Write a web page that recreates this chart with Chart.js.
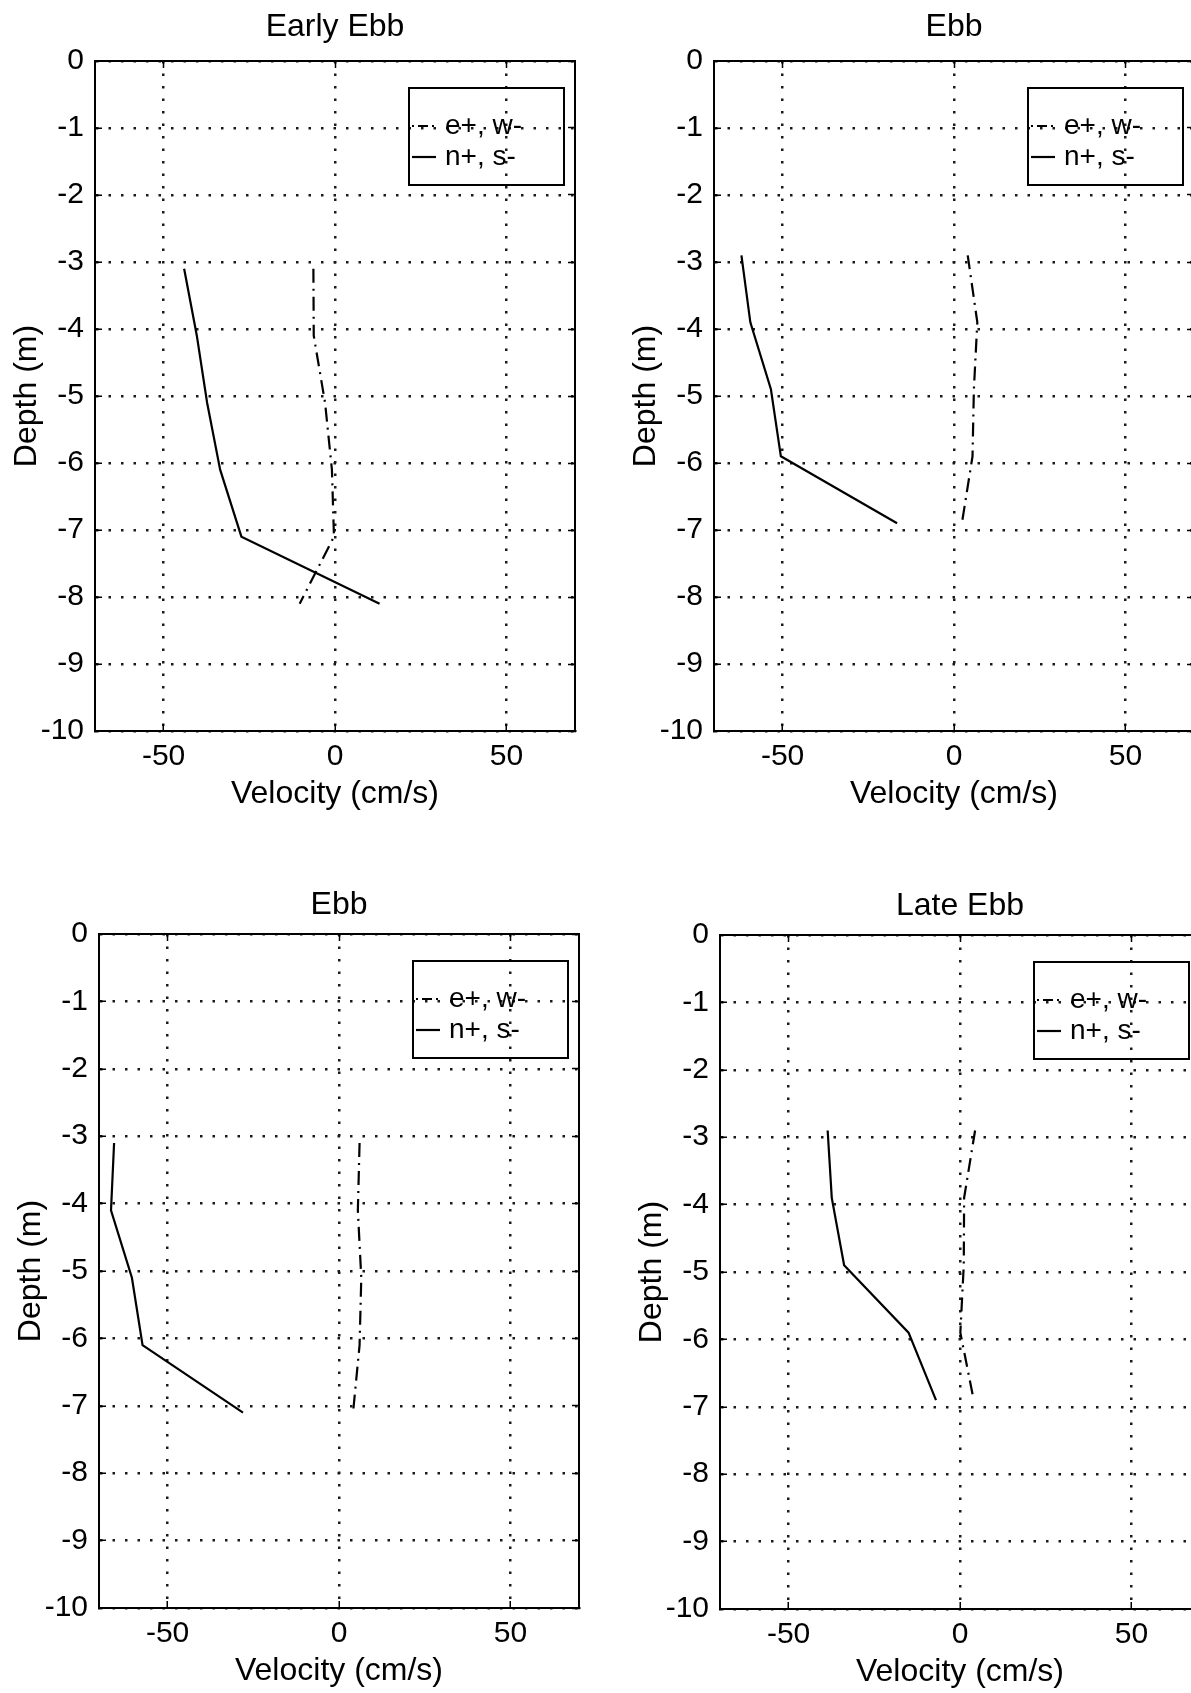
<!DOCTYPE html>
<html>
<head>
<meta charset="utf-8">
<script src="https://cdn.jsdelivr.net/npm/chart.js@4.4.1/dist/chart.umd.min.js"></script>
<style>
html, body { margin: 0; padding: 0; background: #fff; }
body { width: 1191px; height: 1693px; overflow: hidden; position: relative; }
.panel { position: absolute; }
.panel canvas { display: block; }
</style>
</head>
<body>
<div class="panel" style="left:0px; top:0px;"><canvas id="c1" width="581" height="817"></canvas></div>
<div class="panel" style="left:619px; top:0px;"><canvas id="c2" width="581" height="817"></canvas></div>
<div class="panel" style="left:4px; top:860px;"><canvas id="c3" width="581" height="834"></canvas></div>
<div class="panel" style="left:625px; top:861px;"><canvas id="c4" width="581" height="834"></canvas></div>
<script>
// ---------- data ----------
const X_TICKS = [-50, 0, 50];
const Y_TICKS = [0, -1, -2, -3, -4, -5, -6, -7, -8, -9, -10];
const X_MIN = -70, X_MAX = 70;
const Y_MIN = -10, Y_MAX = 0;
const TITLES = ['Early Ebb', 'Ebb', 'Ebb', 'Late Ebb'];
const SERIES_LABELS = ['e+, w-', 'n+, s-'];
const X_LABEL = 'Velocity (cm/s)';
const Y_LABEL = 'Depth (m)';

const DEPTH_EARLY_EBB = [-3.1, -4.1, -5.1, -6.1, -7.1, -8.1];
const EW_EARLY_EBB    = [-6.3, -6.2, -2.9, -0.9, -0.3, -10.3];
const NS_EARLY_EBB    = [-44, -40.3, -37.3, -33.5, -27.3, 13];

const DEPTH_EBB_A = [-2.9, -3.9, -4.9, -5.9, -6.9];
const EW_EBB_A    = [4, 6.8, 5.8, 5.4, 2.3];
const NS_EBB_A    = [-62, -59.4, -53.4, -50.5, -16.6];

const DEPTH_EBB_B = [-3.1, -4.1, -5.1, -6.1, -7.1];
const EW_EBB_B    = [6, 5.5, 6.5, 6, 4.1];
const NS_EBB_B    = [-65.6, -66.5, -60.4, -57.3, -28];

const DEPTH_LATE_EBB = [-2.9, -3.9, -4.9, -5.9, -6.9];
const EW_LATE_EBB    = [4.4, 1.2, 1.1, 0.1, 4];
const NS_LATE_EBB    = [-38.6, -37.4, -33.8, -15, -7];

// ---------- styling / layout ----------
const FONT = '"Liberation Sans", Arial, Helvetica, sans-serif';
const INK = '#000';
const GRID = '#1a1a1a';
const INNER_TICK = -7;

const boxLegend = {
  id: 'boxLegend',
  afterDatasetsDraw(chart, args, opts) {
    const ca = chart.chartArea;
    const ctx = chart.ctx;
    const x0 = ca.right - opts.right - opts.width;
    const y0 = ca.top + opts.top;
    ctx.save();
    ctx.strokeStyle = INK;
    ctx.lineWidth = 2;
    ctx.setLineDash([]);
    ctx.strokeRect(x0, y0, opts.width, opts.height);
    ctx.font = opts.fontSize + 'px ' + FONT;
    ctx.textBaseline = 'middle';
    ctx.textAlign = 'left';
    ctx.fillStyle = INK;
    chart.data.datasets.forEach((ds, i) => {
      const y = y0 + opts.rows[i];
      ctx.setLineDash(ds.borderDash ? opts.sampleDash : []);
      ctx.lineWidth = ds.borderWidth;
      ctx.strokeStyle = ds.borderColor;
      ctx.beginPath();
      ctx.moveTo(x0 + opts.lineStart, y);
      ctx.lineTo(x0 + opts.lineEnd, y);
      ctx.stroke();
      ctx.setLineDash([]);
      ctx.fillText(ds.label, x0 + opts.textX, y);
    });
    ctx.restore();
  }
};

function pts(xs, ys) {
  return ys.map((d, i) => ({ x: xs[i], y: d }));
}

function makeChart(id, title, depth, ew, ns, titlePad) {
  return new Chart(document.getElementById(id), {
    type: 'scatter',
    data: {
      datasets: [
        {
          label: SERIES_LABELS[0],
          data: pts(ew, depth),
          showLine: true,
          borderColor: INK,
          borderWidth: 2.2,
          borderDash: [14, 6, 2, 6],
          pointRadius: 0,
          fill: false,
          tension: 0
        },
        {
          label: SERIES_LABELS[1],
          data: pts(ns, depth),
          showLine: true,
          borderColor: INK,
          borderWidth: 2.2,
          pointRadius: 0,
          fill: false,
          tension: 0
        }
      ]
    },
    options: {
      responsive: false,
      animation: false,
      events: [],
      layout: { padding: { left: 4, right: 6, top: 0, bottom: 4 } },
      plugins: {
        legend: { display: false },
        tooltip: { enabled: false },
        title: {
          display: true,
          text: title,
          color: INK,
          fullSize: false,
          font: { family: FONT, size: 32, weight: 'normal' },
          padding: titlePad
        },
        boxLegend: {
          right: 11, top: 27, width: 155, height: 97,
          rows: [38, 69], lineStart: 3, lineEnd: 27, textX: 36, fontSize: 28,
          sampleDash: [2, 4, 10, 4, 2, 4]
        }
      },
      scales: {
        x: {
          type: 'linear', position: 'bottom', min: X_MIN, max: X_MAX,
          afterBuildTicks: s => { s.ticks = X_TICKS.map(v => ({ value: v })); },
          afterFit: s => { s.height = 82; },
          grid: { color: GRID, lineWidth: 2.5, drawTicks: true, tickLength: INNER_TICK, tickColor: INK, tickWidth: 1.5 },
          border: { display: true, color: INK, width: 2, dash: [2.5, 10] },
          ticks: { padding: 8 - INNER_TICK, color: INK, font: { family: FONT, size: 30 }, callback: v => String(v) },
          title: { display: true, text: X_LABEL, color: INK, font: { family: FONT, size: 32 }, padding: 0 }
        },
        y: {
          type: 'linear', position: 'left', min: Y_MIN, max: Y_MAX,
          afterBuildTicks: s => { s.ticks = Y_TICKS.map(v => ({ value: v })); },
          afterFit: s => { s.width = 91; },
          grid: { color: GRID, lineWidth: 2.5, drawTicks: true, tickLength: INNER_TICK, tickColor: INK, tickWidth: 1.5 },
          border: { display: true, color: INK, width: 2, dash: [2.5, 10] },
          ticks: { padding: 11 - INNER_TICK, color: INK, font: { family: FONT, size: 30 }, callback: v => String(v) },
          title: { display: true, text: Y_LABEL, color: INK, font: { family: FONT, size: 32 }, padding: { top: 3.8, bottom: 0 } }
        },
        x2: {
          type: 'linear', position: 'top', min: X_MIN, max: X_MAX,
          afterBuildTicks: s => { s.ticks = X_TICKS.map(v => ({ value: v })); },
          afterFit: s => { s.height = 0; },
          grid: { display: true, drawOnChartArea: false, drawTicks: true, tickLength: INNER_TICK, tickColor: INK, tickWidth: 1.5 },
          ticks: { display: false },
          border: { display: true, color: INK, width: 2 }
        },
        y2: {
          type: 'linear', position: 'right', min: Y_MIN, max: Y_MAX,
          afterBuildTicks: s => { s.ticks = Y_TICKS.map(v => ({ value: v })); },
          afterFit: s => { s.width = 0; },
          grid: { display: true, drawOnChartArea: false, drawTicks: true, tickLength: INNER_TICK, tickColor: INK, tickWidth: 1.5 },
          ticks: { display: false },
          border: { display: true, color: INK, width: 2 }
        }
      }
    },
    plugins: [boxLegend]
  });
}

const TOP_PAD = { top: 8.4, bottom: 14.2 };
const BOTTOM_PAD = { top: 26.3, bottom: 9.3 };

makeChart('c1', TITLES[0], DEPTH_EARLY_EBB, EW_EARLY_EBB, NS_EARLY_EBB, TOP_PAD);
makeChart('c2', TITLES[1], DEPTH_EBB_A, EW_EBB_A, NS_EBB_A, TOP_PAD);
makeChart('c3', TITLES[2], DEPTH_EBB_B, EW_EBB_B, NS_EBB_B, BOTTOM_PAD);
makeChart('c4', TITLES[3], DEPTH_LATE_EBB, EW_LATE_EBB, NS_LATE_EBB, BOTTOM_PAD);
</script>
</body>
</html>
